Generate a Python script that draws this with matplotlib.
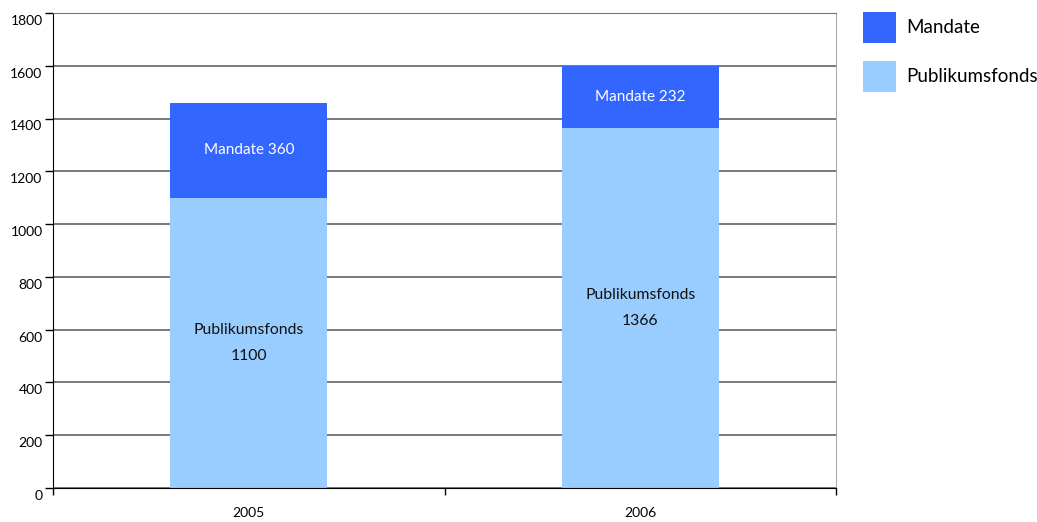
import matplotlib
matplotlib.use("Agg")
import matplotlib.pyplot as plt
import matplotlib.transforms as mtransforms
import numpy as np

plt.rcParams['font.family'] = ['Lato', 'DejaVu Sans']

years = ["2005", "2006"]
publikumsfonds = [1100, 1366]
mandate = [360, 232]
y_ticks = [0, 200, 400, 600, 800, 1000, 1200, 1400, 1600, 1800]

color_mandate = "#3366FF"
color_publikum = "#99CCFF"

fig = plt.figure(figsize=(10.37, 5.22), dpi=100)
ax = fig.add_axes([53 / 1037, 34 / 522, 783 / 1037, 475 / 522])

x = np.arange(len(years)) + 0.5
width = 0.4

ax.bar(x, publikumsfonds, width=width, color=color_publikum, zorder=2, label="Publikumsfonds")
ax.bar(x, mandate, width=width, bottom=publikumsfonds, color=color_mandate, zorder=2, label="Mandate")

for xi, p, m in zip(x, publikumsfonds, mandate):
    ax.text(xi, p / 2, f"Publikumsfonds\n{p}", ha="center", va="center",
            fontsize=11.3, color="#111111", linespacing=2.1, zorder=3)
    ax.text(xi, p + m / 2, f"Mandate {m}", ha="center", va="center",
            fontsize=11, color="white", zorder=3)

ax.set_xlim(0, 2)
ax.set_ylim(0, 1800)
ax.set_yticks(y_ticks)
ax.set_yticklabels([str(v) for v in y_ticks], fontsize=10)
ax.set_xticks([0, 1, 2])
ax.set_xticklabels([])
ax.set_xticks(x, minor=True)
ax.set_xticklabels(years, minor=True, fontsize=10)
ax.tick_params(axis="x", which="minor", length=0, pad=14)
ax.tick_params(axis="x", which="major", length=5, width=1, direction="out")
ax.tick_params(axis="y", length=6, width=1, direction="out", pad=1.5)

offset = mtransforms.ScaledTranslation(0, -5 / 72, fig.dpi_scale_trans)
for lab in ax.get_yticklabels():
    lab.set_transform(lab.get_transform() + offset)

ax.yaxis.grid(True, color="#555555", linewidth=1.1, zorder=0)
ax.set_axisbelow(True)
ax.spines["left"].set_color("black")
ax.spines["bottom"].set_color("black")
ax.spines["top"].set_color("#777777")
ax.spines["right"].set_color("#aaaaaa")

handles, labels = ax.get_legend_handles_labels()
leg = fig.legend(handles[::-1], labels[::-1], loc="upper left",
                 bbox_to_anchor=(863 / 1037, 1 - 12 / 522), frameon=False,
                 fontsize=13.5, handlelength=1.76, handleheight=2.13,
                 labelspacing=1.0, handletextpad=0.53, borderpad=0.0,
                 borderaxespad=0.0)

fig.savefig("out.png", dpi=100)
